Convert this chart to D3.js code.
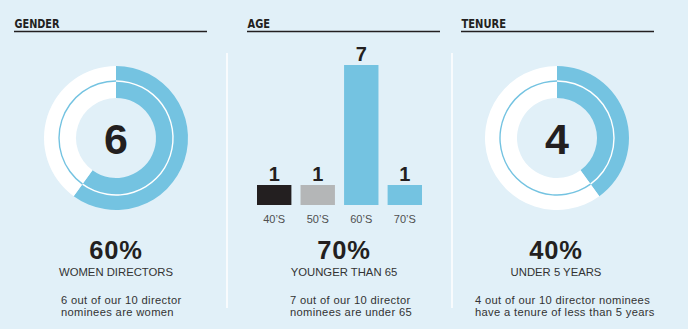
<!DOCTYPE html>
<html><head><meta charset="utf-8">
<script src="https://cdn.jsdelivr.net/npm/d3@7"></script>
<style>
html,body{margin:0;padding:0;background:#e1f0f8;}
svg{display:block;}
</style></head>
<body>
<script>
// ---- data ----
const sectionTitles = ["GENDER", "AGE", "TENURE"];
const genderValues = [6, 4];          // women, other
const tenureValues = [4, 6];          // under 5 years, other
const ageCategories = ["40’S", "50’S", "60’S", "70’S"];
const ageValues = [1, 1, 7, 1];
const bigPercents = ["60%", "70%", "40%"];
const subLabels = ["WOMEN DIRECTORS", "YOUNGER THAN 65", "UNDER 5 YEARS"];
const descriptions = [
  ["6 out of our 10 director", "nominees are women"],
  ["7 out of our 10 director", "nominees are under 65"],
  ["4 out of our 10 director nominees", "have a tenure of less than 5 years"]
];

const W = 688, H = 329;
const BLUE = "#74c3e1", DARK = "#231f20", GREY = "#b4b6b7", BG = "#e1f0f8";
const ageColors = [DARK, GREY, BLUE, BLUE];

const svg = d3.select("body").append("svg").attr("width", W).attr("height", H);
svg.append("rect").attr("width", W).attr("height", H).attr("fill", BG);

const headerFont = "'Liberation Sans Narrow','DejaVu Sans Condensed','Liberation Sans',sans-serif";
const bodyFont = "'Liberation Sans',Arial,sans-serif";

// headers
const headerX = [[14, 207], [247, 440], [461, 654]];
const headerW = [45, 22.5, 44.5];
sectionTitles.forEach((t, i) => {
  svg.append("text").attr("x", headerX[i][0] + 0.5).attr("y", 28)
    .attr("font-family", headerFont).attr("font-weight", "bold")
    .attr("font-size", 13).attr("fill", DARK)
    .attr("textLength", headerW[i]).attr("lengthAdjust", "spacingAndGlyphs").text(t);
  svg.append("line").attr("x1", headerX[i][0]).attr("x2", headerX[i][1])
    .attr("y1", 31.5).attr("y2", 31.5).attr("stroke", DARK).attr("stroke-width", 1.5);
});

// separators
[227, 452].forEach(x => {
  svg.append("line").attr("x1", x).attr("x2", x).attr("y1", 53).attr("y2", 308)
    .attr("stroke", "#ffffff").attr("stroke-width", 1.5);
});

// donuts
function donut(cx, cy, values, label) {
  const g = svg.append("g").attr("transform", `translate(${cx},${cy})`);
  const pie = d3.pie().sort(null).value(d => d);
  const arcs = pie(values);
  const arc = d3.arc().innerRadius(40).outerRadius(72);
  g.selectAll("path.seg").data(arcs).join("path").attr("class", "seg")
    .attr("d", arc).attr("fill", (d, i) => i === 0 ? BLUE : "#ffffff");
  // thin divider ring
  const thin = d3.arc().innerRadius(56.3).outerRadius(57.7);
  g.selectAll("path.thin").data(arcs).join("path").attr("class", "thin")
    .attr("d", thin).attr("fill", (d, i) => i === 0 ? "#ffffff" : BLUE);
  g.append("text").attr("x", 0).attr("y", 15.5).attr("text-anchor", "middle")
    .attr("font-family", bodyFont).attr("font-weight", "bold").attr("font-size", 43)
    .attr("fill", DARK).text(label);
}
donut(116, 138, genderValues, String(genderValues[0]));
donut(557, 138, tenureValues, String(tenureValues[0]));

// age bars
const x = d3.scaleBand().domain(ageCategories).range([257, 422]).paddingInner(0.21).paddingOuter(0);
const y = d3.scaleLinear().domain([0, 7]).range([205, 65]);
const bars = svg.append("g");
bars.selectAll("rect").data(ageValues).join("rect")
  .attr("x", (d, i) => x(ageCategories[i])).attr("width", x.bandwidth())
  .attr("y", d => y(d)).attr("height", d => y(0) - y(d))
  .attr("fill", (d, i) => ageColors[i]);
bars.selectAll("text.val").data(ageValues).join("text").attr("class", "val")
  .attr("x", (d, i) => x(ageCategories[i]) + x.bandwidth() / 2)
  .attr("y", d => y(d) - 4.5).attr("text-anchor", "middle")
  .attr("font-family", bodyFont).attr("font-weight", "bold").attr("font-size", 20)
  .attr("fill", DARK).text(d => d);
const xAxis = d3.axisBottom(x).tickSize(0).tickPadding(0);
const ax = svg.append("g").attr("transform", "translate(0,205)").call(xAxis);
ax.select(".domain").remove();
ax.selectAll("text").attr("dy", null).attr("y", 18)
  .attr("font-family", bodyFont).attr("font-size", 11).attr("fill", "#4f4f4f");

// bottom texts
const centers = [116, 344, 556];
const descX = [61, 290, 475];
centers.forEach((cx, i) => {
  svg.append("text").attr("x", cx).attr("y", 259).attr("text-anchor", "middle")
    .attr("font-family", bodyFont).attr("font-weight", "bold").attr("font-size", 25.5)
    .attr("letter-spacing", 0.8)
    .attr("fill", DARK).text(bigPercents[i]);
  svg.append("text").attr("x", cx).attr("y", 276).attr("text-anchor", "middle")
    .attr("font-family", bodyFont).attr("font-size", 11.3)
    .attr("fill", "#333333").text(subLabels[i]);
  descriptions[i].forEach((line, j) => {
    svg.append("text").attr("x", descX[i]).attr("y", 303.6 + j * 12.6)
      .attr("font-family", bodyFont).attr("font-size", 11.2)
      .attr("letter-spacing", 0.33)
      .attr("fill", "#333333").text(line);
  });
});
</script>
</body></html>
